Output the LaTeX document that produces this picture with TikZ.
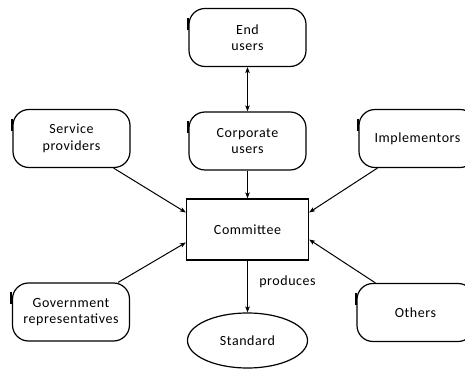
\documentclass[tikz,border=0pt]{standalone}
\usepackage{fontspec}
\setmainfont[LetterSpace=4]{Carlito}
\usetikzlibrary{arrows.meta,shapes.geometric,calc}
\begin{document}
\begin{tikzpicture}[x=1pt,y=1pt,
  font=\fontsize{14}{16.5}\selectfont,
  rbox/.style={draw, rounded corners=16pt, minimum width=117pt,
    minimum height=58pt, line width=1.2pt, align=center, inner sep=0pt},
  cbox/.style={draw, minimum width=122pt, minimum height=61pt,
    line width=1.2pt, inner sep=0pt},
  oval/.style={draw, ellipse, minimum width=120pt, minimum height=55pt,
    line width=1.2pt, inner sep=0pt},
  link/.style={line width=1pt, -{Stealth[length=6pt,width=4.5pt,inset=1.5pt]}},
  dlink/.style={line width=1pt, {Stealth[length=6pt,width=4.5pt,inset=1.5pt]}-{Stealth[length=6pt,width=4.5pt,inset=1.5pt]}},
  tick/.style={line width=1.8pt}]
\useasboundingbox (0,0) rectangle (465,369);
\clip (0,0) rectangle (465,369);

% stakeholder boxes
\node[rbox] (endu) at (247.5,331.5) {End\\users};
\node[rbox] (corp) at (247.5,228) {Corporate\\users};
\node[rbox] (serv) at (71.5,230.5) {Service\\providers};
\node[rbox] (impl) at (417.5,230.5) {Implementors};
\node[rbox] (gov)  at (71,57) {Government\\representatives};
\node[rbox] (oth)  at (415.5,56.5) {Others};

% central committee and its output
\node[cbox] (comm) at (247.5,139.5) {Committee};
\node[oval] (std)  at (247.5,28.5) {Standard};

% small heavy mark on the left side of each rounded box
\foreach \n in {endu,corp,serv,impl,gov,oth}
  \draw[tick] ([xshift=-0.6pt,yshift=-10pt]\n.north west) -- ++(0,-12pt);

% connectors
\draw[dlink] (endu.south) -- (corp.north);
\draw[link] (corp.south) -- (comm.north);
\draw[link] ($(serv.south east)+(-17,0)$) -- ($(comm.west)+(0,17)$);
\draw[link] ($(gov.north east)+(-12,0)$) -- ($(comm.west)+(0,-13)$);
\draw[link] ($(impl.south west)+(19,0)$) -- ($(comm.east)+(0,17)$);
\draw[link] ($(oth.north west)+(19,0)$) -- ($(comm.east)+(0,-10)$);
\draw[link] (comm.south) -- (std.north) node[pos=0.4, right=8pt] (lbl) {produces};
\end{tikzpicture}
\end{document}
